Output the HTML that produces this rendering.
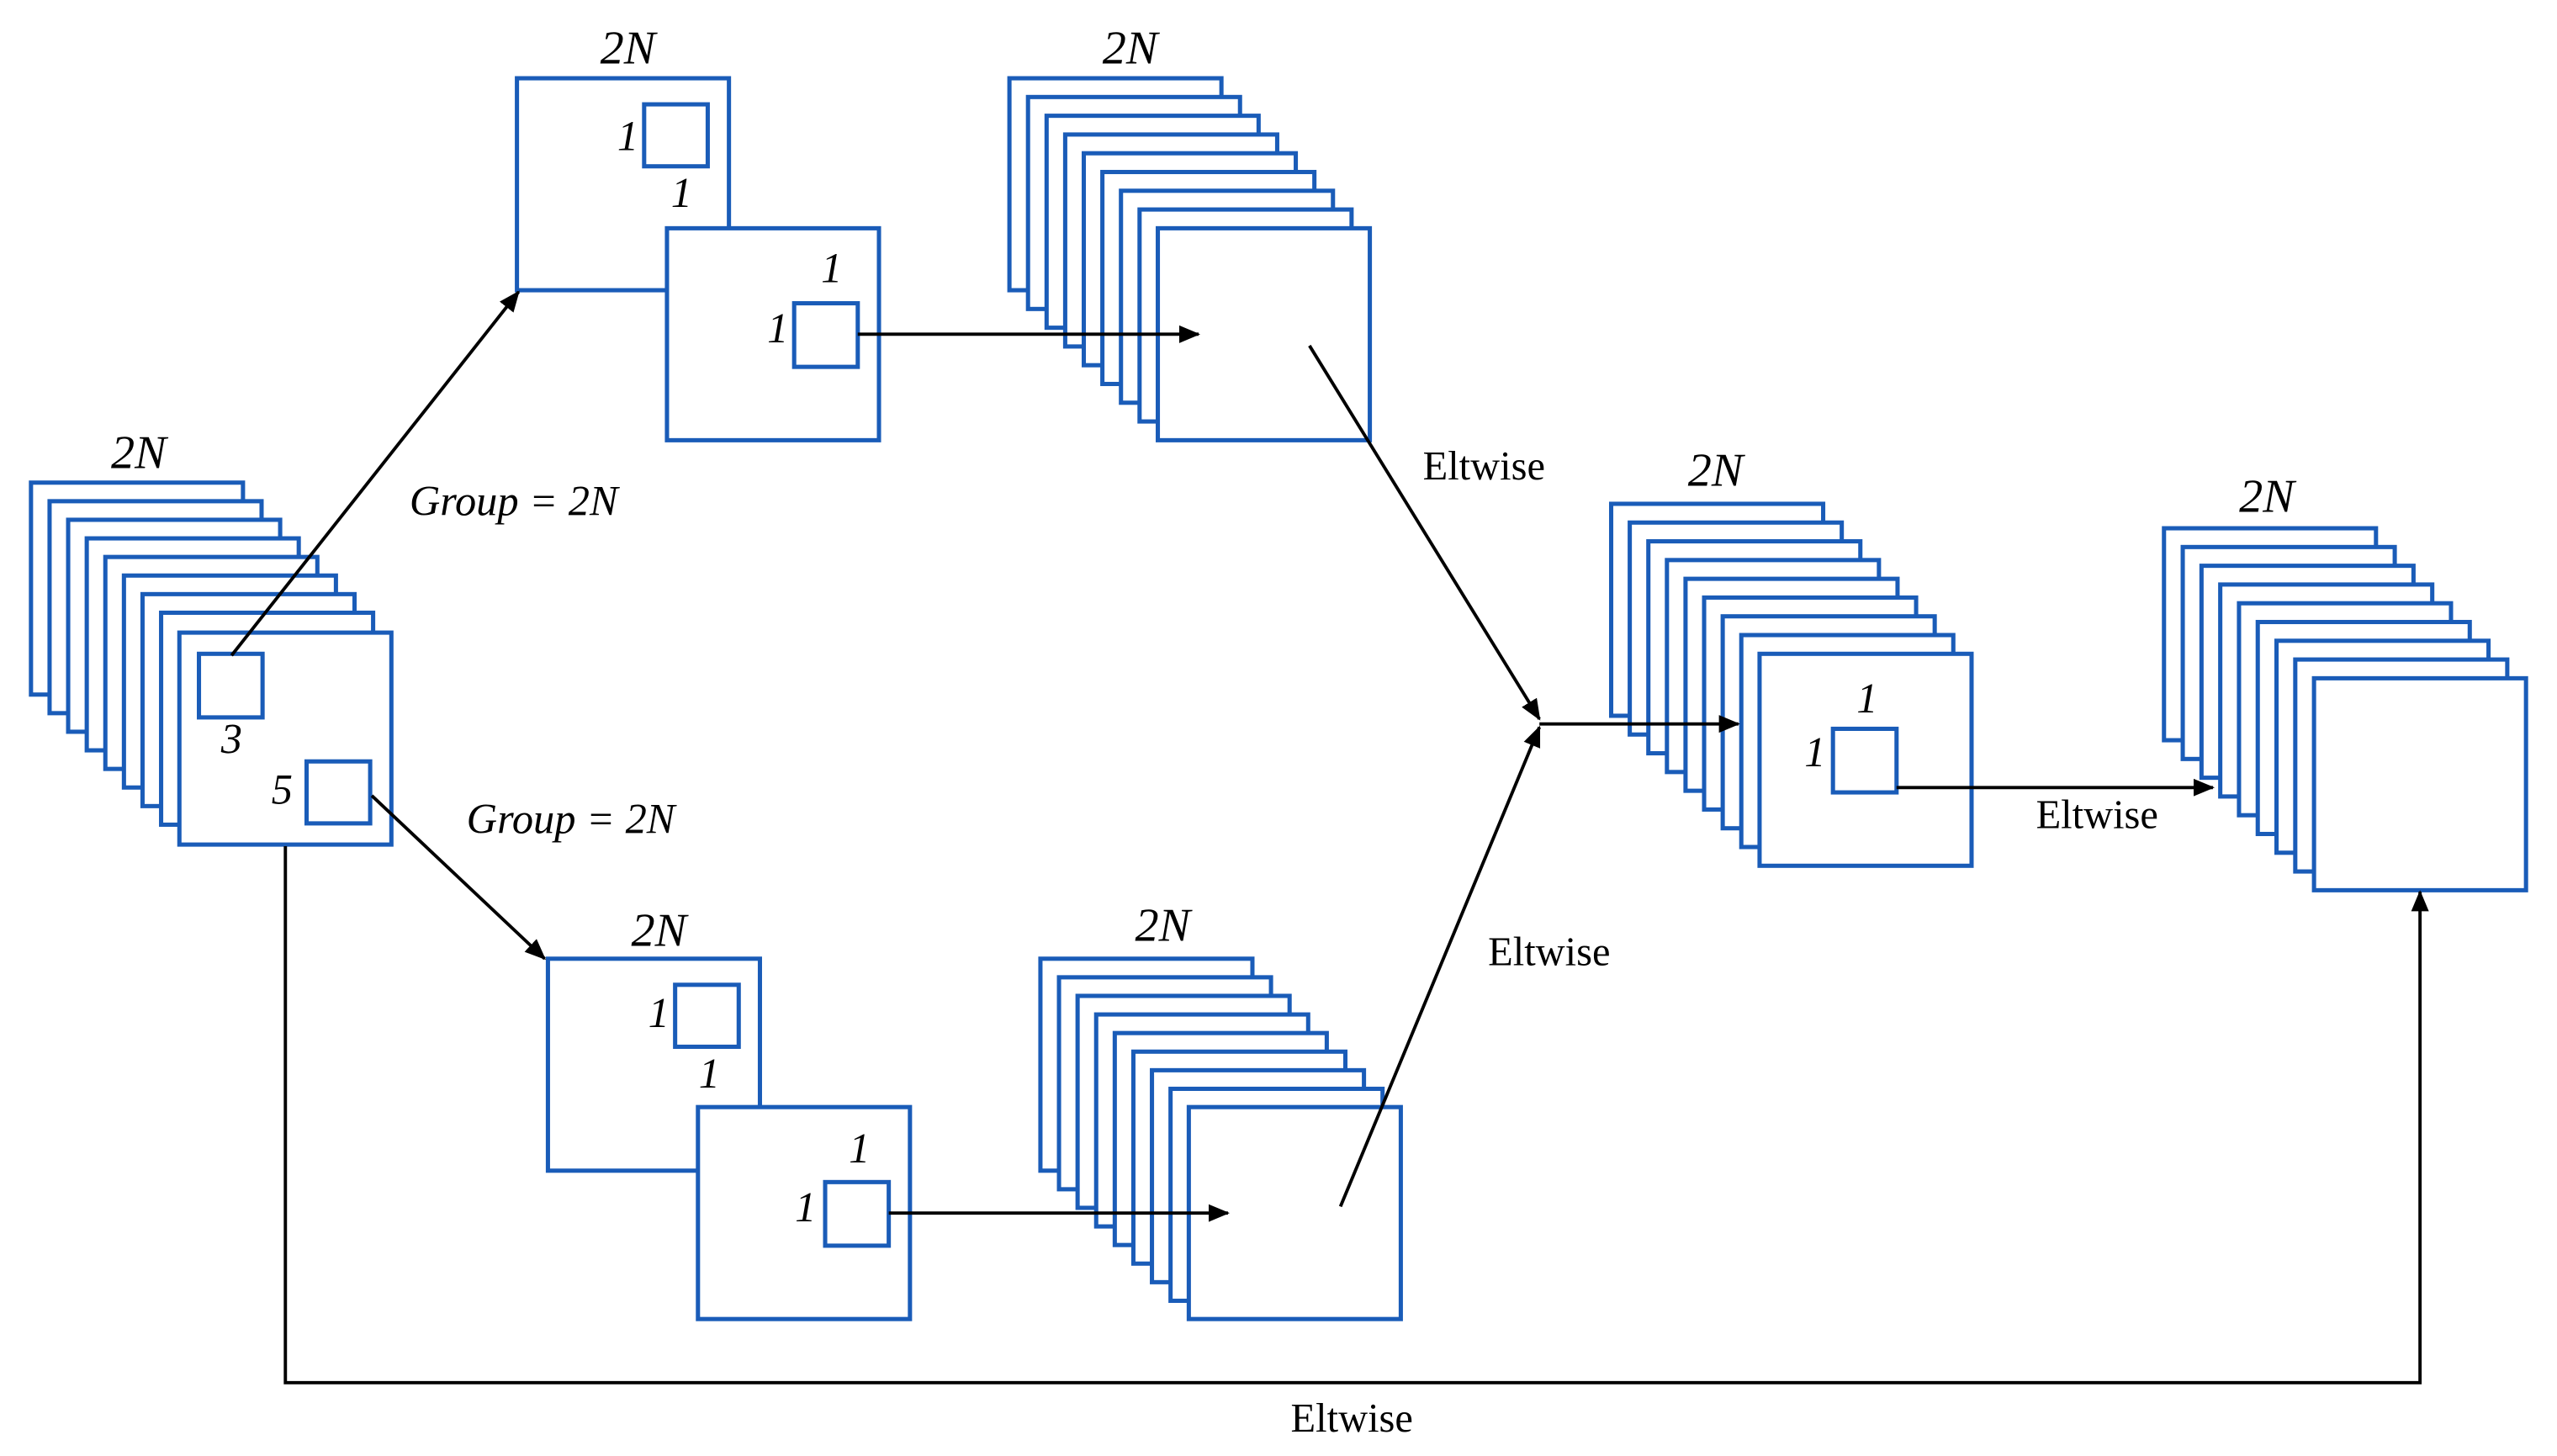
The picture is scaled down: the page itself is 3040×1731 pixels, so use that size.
<!DOCTYPE html>
<html><head><meta charset="utf-8"><style>html,body{margin:0;padding:0;background:#fff}svg{display:block}</style></head>
<body>
<svg width="3040" height="1731" viewBox="0 0 1568 893" preserveAspectRatio="none" xmlns="http://www.w3.org/2000/svg">
<defs>
<marker id="a" viewBox="0 0 12 10" refX="11" refY="5" markerWidth="13" markerHeight="11" orient="auto" markerUnits="userSpaceOnUse"><path d="M0,0 L12,5 L0,10 z" fill="#000"/></marker>
</defs>
<rect width="1568" height="893" fill="#fff"/>
<g fill="#fff" stroke="#1a5cb8" stroke-width="2.6">
<rect x="19" y="296" width="130" height="130"/><rect x="30.4" y="307.4" width="130" height="130"/><rect x="41.8" y="318.8" width="130" height="130"/><rect x="53.2" y="330.2" width="130" height="130"/><rect x="64.6" y="341.6" width="130" height="130"/><rect x="76" y="353" width="130" height="130"/><rect x="87.4" y="364.4" width="130" height="130"/><rect x="98.8" y="375.8" width="130" height="130"/><rect x="110" y="388" width="130" height="130"/>
<rect x="122" y="401" width="39" height="39"/>
<rect x="188" y="467" width="39" height="38"/>
<rect x="317" y="48" width="130" height="130"/>
<rect x="395" y="64" width="39" height="38"/>
<rect x="409" y="140" width="130" height="130"/>
<rect x="487" y="186" width="39" height="39"/>
<rect x="336" y="588" width="130" height="130"/>
<rect x="414" y="604" width="39" height="38"/>
<rect x="428" y="679" width="130" height="130"/>
<rect x="506" y="725" width="39" height="39"/>
<rect x="619" y="48" width="130" height="130"/><rect x="630.4" y="59.5" width="130" height="130"/><rect x="641.8" y="71" width="130" height="130"/><rect x="653.2" y="82.5" width="130" height="130"/><rect x="664.6" y="94" width="130" height="130"/><rect x="676" y="105.5" width="130" height="130"/><rect x="687.4" y="117" width="130" height="130"/><rect x="698.8" y="128.5" width="130" height="130"/><rect x="710" y="140" width="130" height="130"/>
<rect x="638" y="588" width="130" height="130"/><rect x="649.4" y="599.4" width="130" height="130"/><rect x="660.8" y="610.8" width="130" height="130"/><rect x="672.2" y="622.2" width="130" height="130"/><rect x="683.6" y="633.6" width="130" height="130"/><rect x="695" y="645" width="130" height="130"/><rect x="706.4" y="656.4" width="130" height="130"/><rect x="717.8" y="667.8" width="130" height="130"/><rect x="729" y="679" width="130" height="130"/>
<rect x="988" y="309" width="130" height="130"/><rect x="999.4" y="320.5" width="130" height="130"/><rect x="1010.8" y="332" width="130" height="130"/><rect x="1022.2" y="343.5" width="130" height="130"/><rect x="1033.6" y="355" width="130" height="130"/><rect x="1045" y="366.5" width="130" height="130"/><rect x="1056.4" y="378" width="130" height="130"/><rect x="1067.8" y="389.5" width="130" height="130"/><rect x="1079" y="401" width="130" height="130"/>
<rect x="1124" y="447" width="39" height="39"/>
<rect x="1327" y="324" width="130" height="130"/><rect x="1338.5" y="335.5" width="130" height="130"/><rect x="1350" y="347" width="130" height="130"/><rect x="1361.5" y="358.5" width="130" height="130"/><rect x="1373" y="370" width="130" height="130"/><rect x="1384.5" y="381.5" width="130" height="130"/><rect x="1396" y="393" width="130" height="130"/><rect x="1407.5" y="404.5" width="130" height="130"/><rect x="1419" y="416" width="130" height="130"/>
</g>
<g stroke="#000" stroke-width="2" fill="none">
<line x1="142" y1="402" x2="318" y2="179" marker-end="url(#a)"/>
<line x1="228" y1="488" x2="334" y2="588" marker-end="url(#a)"/>
<line x1="526" y1="205" x2="735" y2="205" marker-end="url(#a)"/>
<line x1="545" y1="744" x2="753" y2="744" marker-end="url(#a)"/>
<line x1="803" y1="212" x2="944" y2="441" marker-end="url(#a)"/>
<line x1="822" y1="740" x2="944" y2="446" marker-end="url(#a)"/>
<line x1="944" y1="444" x2="1066" y2="444" marker-end="url(#a)"/>
<line x1="1163" y1="483" x2="1357" y2="483" marker-end="url(#a)"/>
<polyline points="175,519 175,848 1484,848 1484,547" marker-end="url(#a)"/>
</g>
<g font-family="Liberation Serif, serif" fill="#000">
<g font-style="italic" font-size="29" text-anchor="middle">
<text x="85" y="287">2N</text>
<text x="385" y="39">2N</text>
<text x="693" y="39">2N</text>
<text x="404" y="580">2N</text>
<text x="713" y="577">2N</text>
<text x="1052" y="298">2N</text>
<text x="1390" y="314">2N</text>
</g>
<g font-style="italic" font-size="26" text-anchor="middle">
<text x="315" y="316">Group = 2N</text>
<text x="350" y="511">Group = 2N</text>
<text x="142" y="462">3</text>
<text x="173" y="493">5</text>
<text x="385" y="92">1</text>
<text x="418" y="127">1</text>
<text x="510" y="173">1</text>
<text x="477" y="210">1</text>
<text x="404" y="630">1</text>
<text x="435" y="667">1</text>
<text x="527" y="713">1</text>
<text x="494" y="749">1</text>
<text x="1145" y="437">1</text>
<text x="1113" y="470">1</text>
</g>
<g font-size="25" text-anchor="middle">
<text x="910" y="294">Eltwise</text>
<text x="950" y="592">Eltwise</text>
<text x="1286" y="508">Eltwise</text>
<text x="829" y="878">Eltwise</text>
</g>
</g>
</svg>
</body></html>
